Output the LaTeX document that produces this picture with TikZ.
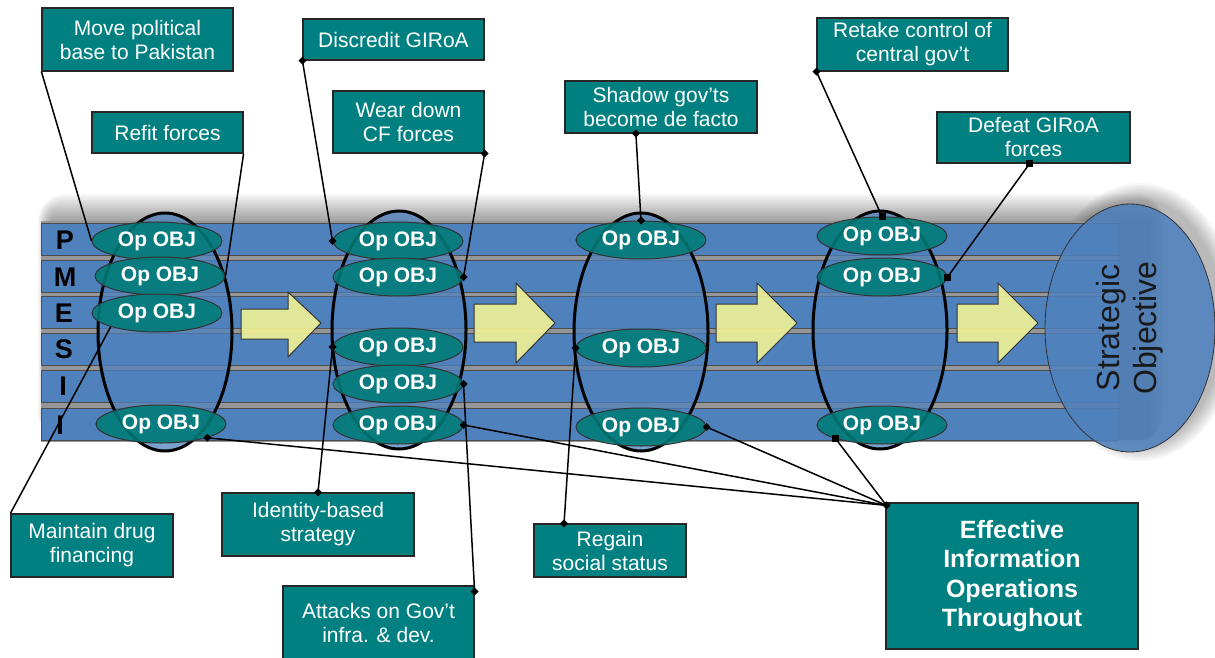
\documentclass[tikz,border=0pt]{standalone}
\usepackage{fontspec}
\setmainfont{Liberation Sans}
\usetikzlibrary{shapes.geometric,calc}

\definecolor{boxteal}{RGB}{0,128,128}
\definecolor{objteal}{RGB}{0,124,120}
\definecolor{bandblue}{RGB}{79,129,189}
\definecolor{sepgray}{RGB}{150,150,150}
\definecolor{arrowyel}{RGB}{238,240,150}

\tikzset{
  band/.style={fill=bandblue, draw=black!70, line width=0.8pt},
  rowlabel/.style={font=\fontsize{27}{30}\selectfont\bfseries, text=black, inner sep=0},
  phase/.style={ellipse, draw=black, line width=3pt, fill=bandblue, fill opacity=0.75,
    minimum width=134pt, minimum height=238pt, inner sep=0},
  opobj/.style={ellipse, draw=black!80, line width=1pt, fill=objteal, fill opacity=0.88,
    text=white, text opacity=1, font=\fontsize{21}{24}\selectfont\bfseries,
    minimum width=130pt, minimum height=38pt, inner sep=0},
  tbox/.style={rectangle, draw=black!85, line width=1.2pt, fill=boxteal, text=white,
    align=center, inner sep=0, font=\fontsize{21}{24}\selectfont},
  fwd/.style={fill=arrowyel, fill opacity=0.92, draw=black!80, line width=1pt},
  conn/.style={draw=black, line width=1.5pt},
  dia/.pic={\fill[black] (-4,0) -- (0,4) -- (4,0) -- (0,-4) -- cycle;},
  sq/.pic={\fill[black] (-3.5,-3.5) rectangle (3.5,3.5);}
}

\begin{document}
\begin{tikzpicture}[x=1pt,y=-1pt]
\useasboundingbox (0,0) rectangle (1215,658);

% soft shadow behind the lanes
\foreach \r in {1,...,14}
  \fill[black, opacity=0.032, rounded corners=2*\r]
    (52-\r,222-2*\r) rectangle (1150+\r,440);
% shadow around the strategic objective
\foreach \r in {1,...,10}
  \fill[black, opacity=0.03] (1140,322) ellipse [x radius=82+1.8*\r, y radius=121+1.8*\r];

% lanes
\fill[sepgray] (41,221) rectangle (1118,442);
\foreach \t in {223,260,296,333,370,408}
  \draw[band] (41,\t) rectangle (1118,\t+32);

\node[rowlabel] (lP)  at (65,240) {P};
\node[rowlabel] (lM)  at (65,277) {M};
\node[rowlabel] (lE)  at (64,313) {E};
\node[rowlabel] (lS)  at (64,349) {S};
\node[rowlabel] (lI1) at (63,386) {I};
\node[rowlabel] (lI2) at (60,425) {I};

% progression arrows
\draw[fwd] (241,309) -- (288,309) -- (288,292) -- (321,323) -- (288,357) -- (288,339) -- (241,339) -- cycle;
\draw[fwd] (474,304) -- (516,304) -- (516,283) -- (555,323) -- (516,363) -- (516,342) -- (474,342) -- cycle;
\draw[fwd] (716,304) -- (757,304) -- (757,283) -- (797,323) -- (757,363) -- (757,342) -- (716,342) -- cycle;
\draw[fwd] (957,304) -- (998,304) -- (998,283) -- (1038,323) -- (998,363) -- (998,342) -- (957,342) -- cycle;

% phases
\node[phase] (E1) at (165,332) {};
\node[phase] (E2) at (399,330) {};
\node[phase] (E3) at (641,332) {};
\node[phase] (E4) at (880,330) {};

% strategic objective
\node[ellipse, rotate=90, draw=black!80, line width=0.8pt, fill=bandblue, fill opacity=0.88,
  text=black!90, text opacity=1, minimum width=248pt, minimum height=170pt, align=center,
  font=\fontsize{32}{37}\selectfont] (SO) at (1130,328) {Strategic\\Objective};

% operational objectives
\node[opobj] (e1P) at (157,241) {Op OBJ};
\node[opobj] (e1M) at (160,276) {Op OBJ};
\node[opobj] (e1E) at (157,313) {Op OBJ};
\node[opobj] (e1I) at (161,424) {Op OBJ};

\node[opobj] (e2P)  at (398,241) {Op OBJ};
\node[opobj] (e2M)  at (398,277) {Op OBJ};
\node[opobj] (e2S)  at (398,347) {Op OBJ};
\node[opobj] (e2Ia) at (398,384) {Op OBJ};
\node[opobj] (e2Ib) at (398,425) {Op OBJ};

\node[opobj] (e3P) at (641,240) {Op OBJ};
\node[opobj] (e3S) at (641,348) {Op OBJ};
\node[opobj] (e3I) at (641,427) {Op OBJ};

\node[opobj] (e4P) at (882,236) {Op OBJ};
\node[opobj] (e4M) at (882,277) {Op OBJ};
\node[opobj] (e4I) at (882,425) {Op OBJ};

% callouts
\node[tbox, minimum width=191pt, minimum height=63pt] (b1) at (137.5,39.5) {Move political\\base to Pakistan};
\node[tbox, minimum width=151pt, minimum height=41pt] (b2) at (167.5,132.5) {Refit forces};
\node[tbox, minimum width=181pt, minimum height=41pt] (b3) at (393.5,39.5) {Discredit GIRoA};
\node[tbox, minimum width=151pt, minimum height=62pt] (b4) at (408.5,122) {Wear down\\CF forces};
\node[tbox, minimum width=192pt, minimum height=52pt] (b5) at (661,107) {Shadow gov’ts\\become de facto};
\node[tbox, minimum width=191pt, minimum height=53pt] (b6) at (912.5,44.5) {Retake control of\\central gov’t};
\node[tbox, minimum width=193pt, minimum height=51pt] (b7) at (1033.5,137.5) {Defeat GIRoA\\forces};
\node[tbox, minimum width=162pt, minimum height=63pt] (b8) at (92,545.5) {Maintain drug\\financing};
\node[tbox, minimum width=192pt, minimum height=63pt] (b9) at (318,524.5) {Identity-based\\strategy};
\node[tbox, minimum width=191pt, minimum height=74pt] (b10) at (378.5,623) {Attacks on Gov’t\\infra. \& dev.};
\node[tbox, minimum width=152pt, minimum height=53pt] (b11) at (610,550.5) {Regain\\social status};
\node[tbox, minimum width=252pt, minimum height=146pt, font=\fontsize{25}{29.5}\selectfont\bfseries]
  (b12) at (1012,576) {Effective\\Information\\Operations\\Throughout};

% link points on the callouts
\coordinate (b5a)  at ($(b5.south west)!0.37!(b5.south east)$);
\coordinate (b7a)  at ($(b7.south west)!0.48!(b7.south east)$);
\coordinate (b10a) at ([yshift=-6pt]b10.north east);
\coordinate (b11a) at ($(b11.north west)!0.2!(b11.north east)$);
\coordinate (b12a) at ([xshift=1pt,yshift=-3pt]b12.north west);

% connectors
\draw[conn] (b1.south west) -- (e1P.west);
\draw[conn] (b2.south east) -- (e1M.east);
\draw[conn] (b3.south west) -- (e2P.west);
\draw[conn] (b4.south east) -- (e2M.east);
\draw[conn] (b5a) -- (e3P.north);
\draw[conn] (b6.south west) -- (e4P.north);
\draw[conn] (b7a) -- (e4M.east);
\draw[conn] (b8.north west) -- (e1E.south west);
\draw[conn] (b9.north) -- (e2S.west);
\draw[conn] (b10a) -- (e2Ia.east);
\draw[conn] (b11a) -- (e3S.west);
\draw[conn] (b12a) -- (e1I.south east);
\draw[conn] (b12a) -- (e2Ib.east);
\draw[conn] (b12a) -- (e3I.east);
\draw[conn] (b12a) -- (e4I.south west);

% end markers
\pic at (b3.south west) {dia};  \pic at (e2P.west) {dia};
\pic at (b4.south east) {dia};  \pic at (e2M.east) {dia};
\pic at (b5a) {dia};            \pic at (e3P.north) {dia};
\pic at (b6.south west) {dia};  \pic at (e4P.north) {sq};
\pic at (b7a) {sq};             \pic at (e4M.east) {sq};
\pic at (b9.north) {dia};       \pic at (e2S.west) {dia};
\pic at (b10a) {dia};           \pic at (e2Ia.east) {dia};
\pic at (b11a) {dia};           \pic at (e3S.west) {dia};
\pic at (b12a) {dia};
\pic at (e1I.south east) {dia}; \pic at (e2Ib.east) {dia};
\pic at (e3I.east) {dia};       \pic at (e4I.south west) {sq};
\end{tikzpicture}
\end{document}
